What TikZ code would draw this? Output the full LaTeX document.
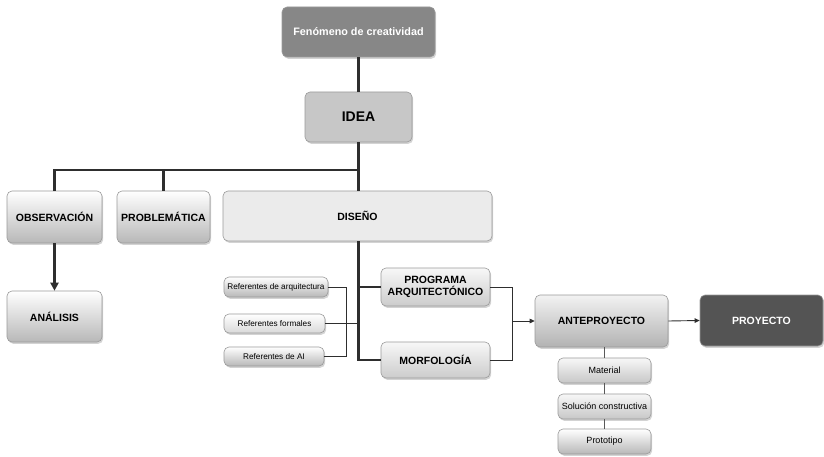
\documentclass[tikz,border=0pt]{standalone}
\usepackage{fontspec}
\setmainfont{Liberation Sans}
\usetikzlibrary{shadows,arrows.meta,calc}
\definecolor{dkline}{HTML}{2E2E2E}
\definecolor{boxline}{HTML}{9A9A9A}
\tikzset{
  base/.style={draw=boxline, line width=0.6pt, rounded corners=5pt, align=center, inner sep=1pt,
    drop shadow={opacity=0.35, shadow xshift=1.2pt, shadow yshift=-1.8pt}},
  gradbox/.style={base, top color=white, bottom color=black!28},
  bigtxt/.style={font=\fontsize{10.5}{11.5}\selectfont\bfseries},
  smalltxt/.style={font=\fontsize{8.2}{9}\selectfont},
  coltxt/.style={font=\fontsize{9}{10}\selectfont},
  thickline/.style={draw=dkline, line width=2.6pt},
  thinline/.style={draw=dkline, line width=0.9pt},
  midline/.style={draw=black!65, line width=1.8pt},
}
\begin{document}
\begin{tikzpicture}[x=1pt,y=-1pt]
\useasboundingbox (0,0) rectangle (824,457);
% nodes
\node[base, fill=black!47, text=white, font=\fontsize{10.8}{12}\selectfont\bfseries, minimum width=153, minimum height=50] (fen) at (358.5,32) {Fenómeno de creatividad};
\node[base, fill=black!22, font=\fontsize{14}{16}\selectfont\bfseries, minimum width=107, minimum height=50] (idea) at (358.5,117) {IDEA};
\node[gradbox, bigtxt, minimum width=95, minimum height=52] (obs) at (54.5,217) {OBSERVACIÓN};
\node[gradbox, bigtxt, minimum width=93, minimum height=52] (prob) at (163.5,217) {PROBLEMÁTICA};
\node[base, fill=black!8, bigtxt, minimum width=269, minimum height=50] (dis) at (357.5,216) {DISEÑO};
\node[gradbox, bigtxt, minimum width=95, minimum height=51] (ana) at (54.5,316.5) {ANÁLISIS};
\node[gradbox, top color=black!3, bottom color=black!20, bigtxt, minimum width=109, minimum height=38] (prog) at (435.5,287) {PROGRAMA\\ARQUITECTÓNICO};
\node[gradbox, top color=black!3, bottom color=black!20, bigtxt, minimum width=109, minimum height=36] (morf) at (435.5,360) {MORFOLOGÍA};
\node[gradbox, smalltxt, minimum width=104, minimum height=20] (rarq) at (276,287) {Referentes de arquitectura};
\node[gradbox, top color=white, bottom color=black!15, smalltxt, minimum width=101, minimum height=19] (rfor) at (274.5,323.5) {Referentes formales};
\node[gradbox, smalltxt, minimum width=100, minimum height=19] (rai) at (274,356.5) {Referentes de AI};
\node[gradbox, top color=black!5, bottom color=black!30, bigtxt, minimum width=133, minimum height=52] (ante) at (601.5,321) {ANTEPROYECTO};
\node[base, fill=black!67, text=white, bigtxt, minimum width=123, minimum height=51] (proy) at (761.5,320.5) {PROYECTO};
\node[gradbox, top color=black!3, bottom color=black!22, coltxt, minimum width=93, minimum height=25] (mat) at (604.5,370.5) {Material};
\node[gradbox, top color=black!3, bottom color=black!22, coltxt, minimum width=93, minimum height=25] (sol) at (604.5,406.5) {Solución constructiva};
\node[gradbox, coltxt, minimum width=93, minimum height=25] (pro) at (604.5,441.5) {Prototipo};
% coordinates
\coordinate (hub) at (358.5,170);
\coordinate (lbrk) at (346,0);
\coordinate (rbrk) at (512,0);
% thick connectors
\draw[thickline] (fen.south) -- (idea.north);
\draw[thickline] (idea.south) -- (hub);
\draw[thickline, line join=miter] (obs.north) |- (hub);
\draw[thickline] (prob.north) -- (prob.north |- hub);
\draw[thickline] (hub) -- (hub |- dis.north);
\draw[thickline] (dis.south -| hub) |- (morf.west);
\draw[thickline] (prog.west -| hub) -- (prog.west);
\draw[thickline, -{Triangle[length=8pt,width=8pt]}] (obs.south) -- (ana.north);
% thin connectors
\draw[thinline] (rarq.east) -| (lbrk |- rai.east) -- (rai.east);
\draw[thinline] (rfor.east) -- (rfor.east -| hub);
\draw[thinline] (prog.east) -| (rbrk |- morf.east) -- (morf.east);
\draw[thinline, -{Triangle[length=5pt,width=4.5pt]}] (rbrk |- ante.west) -- (ante.west);
\draw[thinline, -{Triangle[length=5pt,width=4.5pt]}] (ante.east) -- (proy.west);
% anteproyecto column
\draw[midline] (ante.south -| mat.north) -- (mat.north);
\draw[midline] (mat.south) -- (sol.north);
\draw[midline] (sol.south) -- (pro.north);
\end{tikzpicture}
\end{document}
